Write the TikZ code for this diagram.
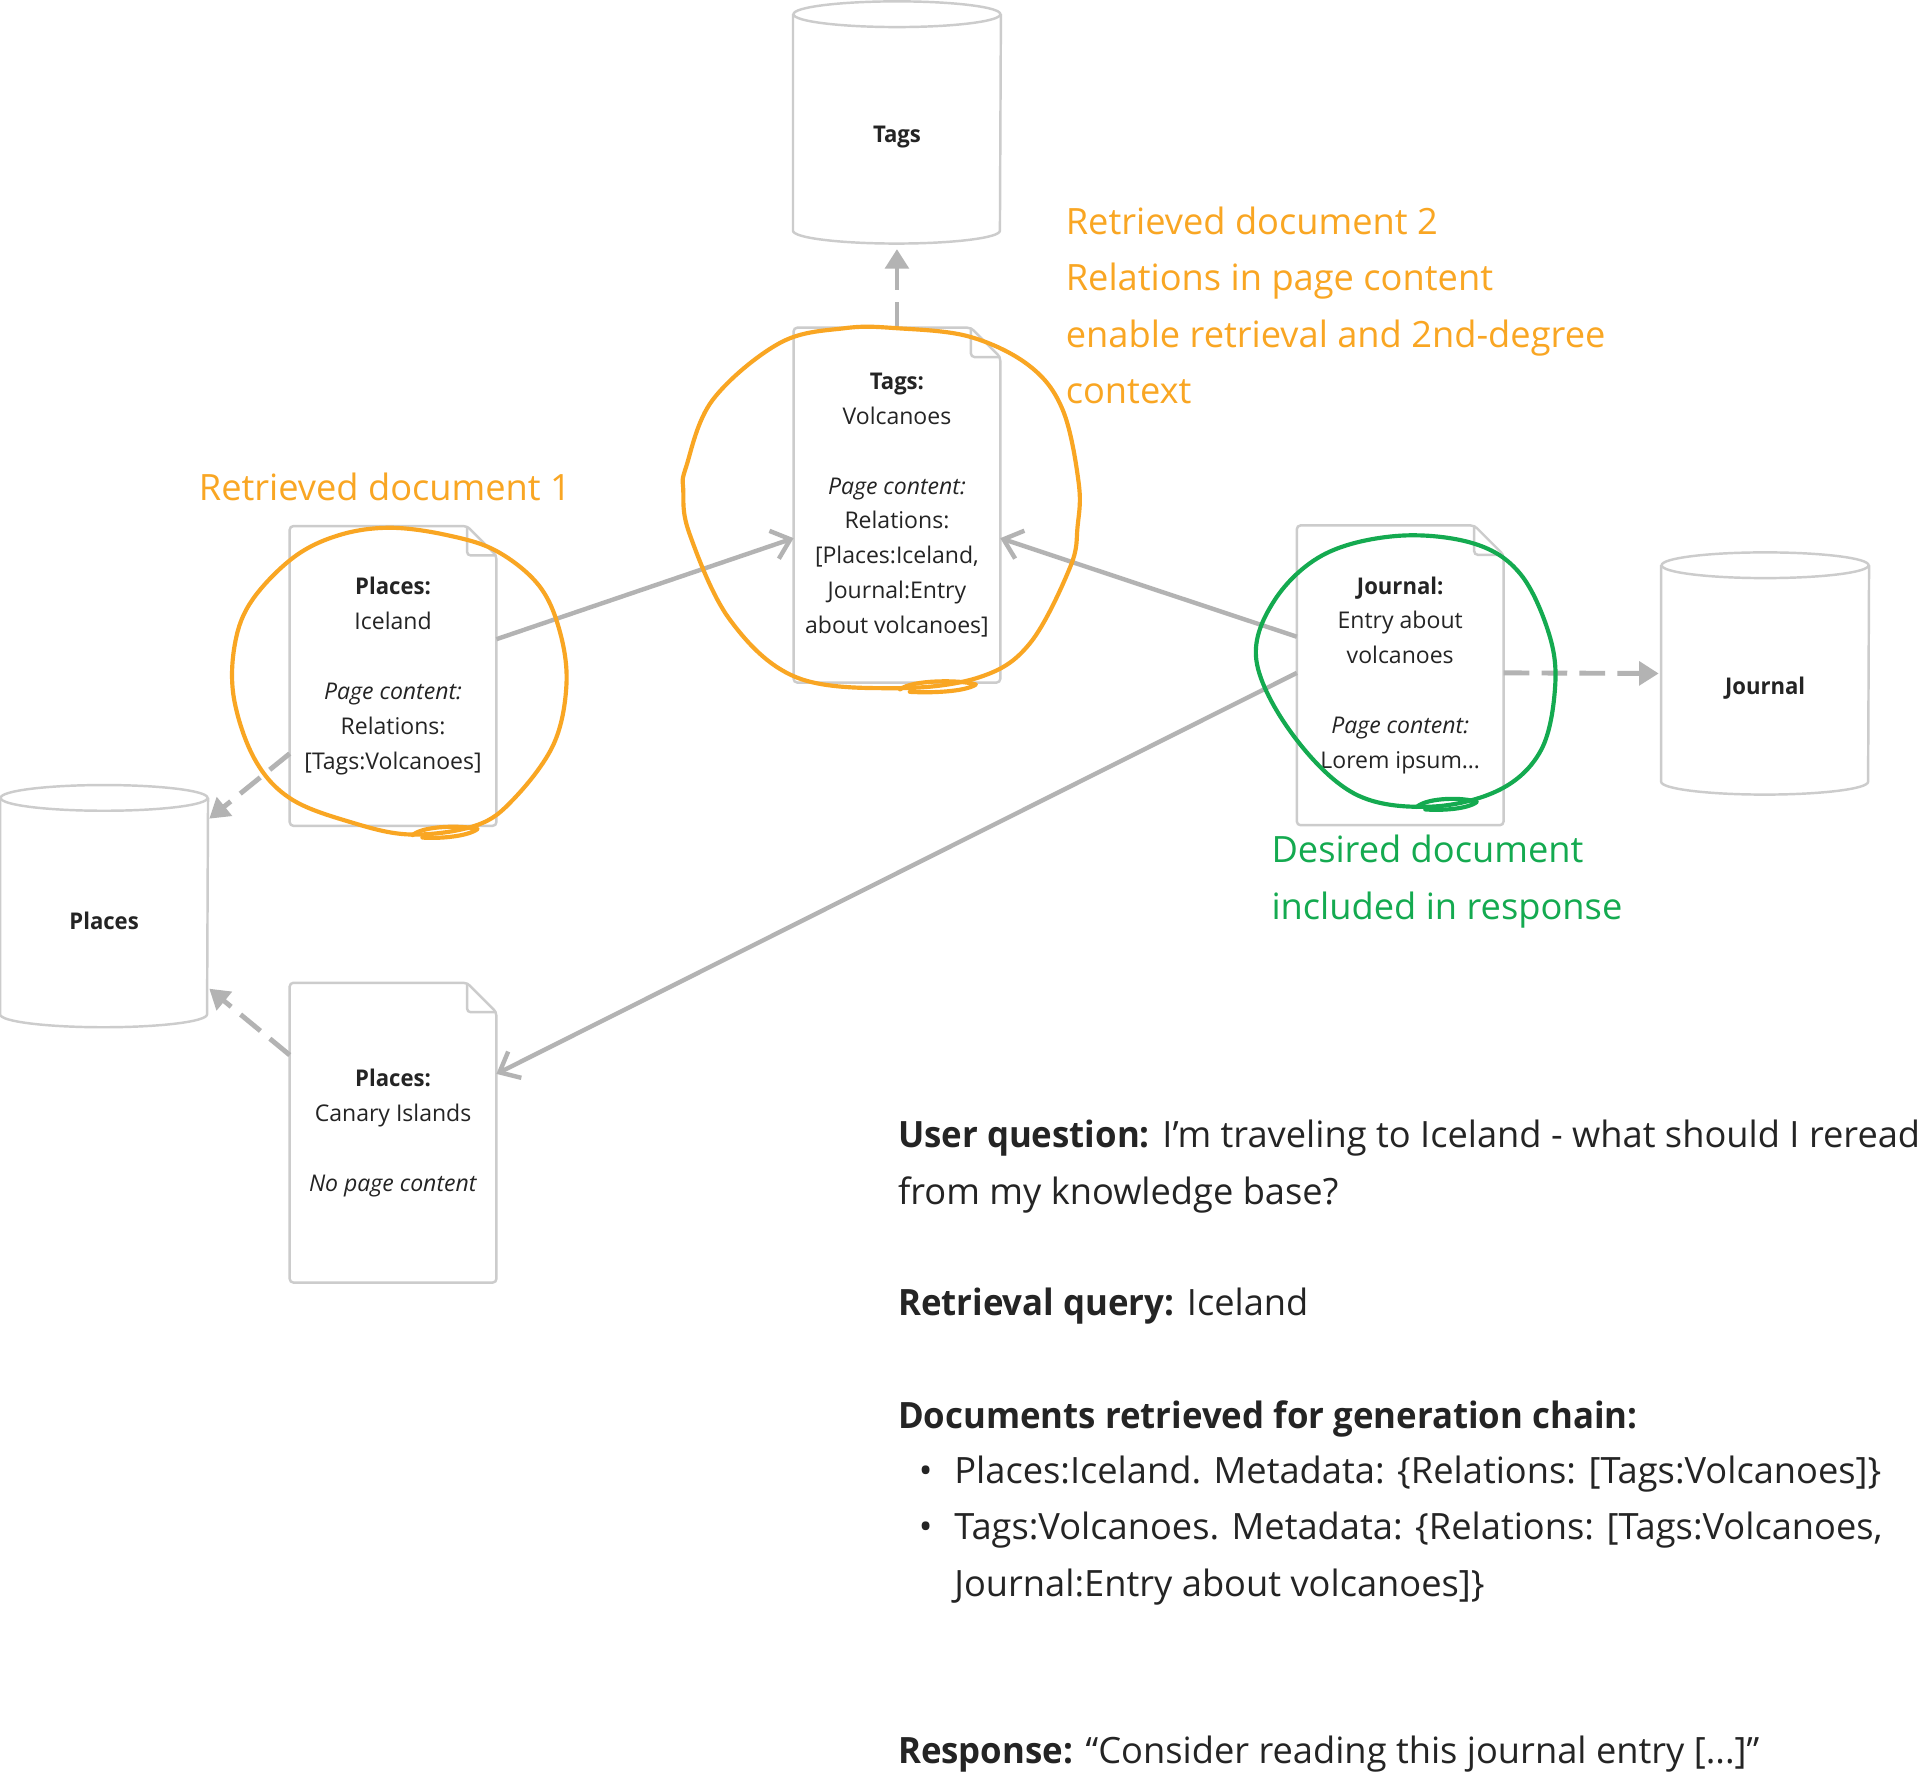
\documentclass[tikz,border=0pt]{standalone}
\usepackage{fontspec}
\setmainfont{Open Sans}[BoldFeatures={FakeStretch=0.96}]
\usetikzlibrary{arrows.meta}

\definecolor{docgray}{HTML}{CCCCCC}
\definecolor{arrowgray}{HTML}{B3B3B3}
\definecolor{inkdark}{HTML}{242424}
\definecolor{markorange}{HTML}{F9A623}
\definecolor{markgreen}{HTML}{14AA50}

\tikzset{
    docline/.style={draw=docgray, line width=1pt, rounded corners=1.5pt},
    docnode/.style={fill=white, minimum width=84pt, minimum height=122pt, inner sep=0pt,
        align=center, text=inkdark, font=\fontsize{9.4pt}{14.25pt}\selectfont},
    dbnode/.style={fill=white, minimum width=84.5pt, minimum height=88pt, inner sep=0pt},
    dbtext/.style={font=\fontsize{9.4pt}{11pt}\selectfont\bfseries, text=inkdark},
    link/.style={draw=arrowgray, line width=1.8pt, -{Straight Barb[length=7pt,width=12pt]}},
    dashlink/.style={draw=arrowgray, line width=2pt, dash pattern=on 10.5pt off 5pt,
        -{Triangle[length=8pt,width=9.5pt]}},
    note/.style={anchor=base west, inner sep=0pt, text=inkdark, font=\fontsize{14.8pt}{23pt}\selectfont},
    ringorange/.style={draw=markorange, line width=1.7pt, line cap=round, line join=round},
    ringgreen/.style={draw=markgreen, line width=1.7pt, line cap=round, line join=round}
}

\begin{document}
\begin{tikzpicture}[x=0.5pt, y=-0.5pt]
    \useasboundingbox[fill=white] (0,0) rectangle (1568,1448);

    % Databases
    \node[dbnode, label={[dbtext,yshift=-6pt]center:Tags}] (tagsdb) at (732.5,100) {};
    \node[dbnode, label={[dbtext,yshift=-6pt]center:Places}] (placesdb) at (85,740) {};
    \node[dbnode, label={[dbtext,yshift=-6pt]center:Journal}] (jdb) at (1441.5,550) {};
    \foreach \n in {tagsdb,placesdb,jdb} {
        \draw[docline, rounded corners=0pt] (\n.north west) -- (\n.south west)
            arc[start angle=180, end angle=360, x radius=42.25pt, y radius=5.25pt] -- (\n.north east);
        \draw[docline, rounded corners=0pt] (\n.north) ellipse[x radius=42.25pt, y radius=5.25pt];
    }

    % Documents
    \node[docnode] (icedoc) at (321,552)
        {\textbf{Places:}\\Iceland\\[14.25pt]\textit{Page content:}\\Relations:\\{[}Tags:Volcanoes]};
    \node[docnode, minimum height=144.5pt] (tagsdoc) at (732.5,412.5)
        {\textbf{Tags:}\\Volcanoes\\[14.25pt]\textit{Page content:}\\Relations:\\{[}Places:Iceland,\\Journal:Entry\\about volcanoes]};
    \node[docnode] (jdoc) at (1143.5,551.5)
        {\textbf{Journal:}\\Entry about\\volcanoes\\[14.25pt]\textit{Page content:}\\Lorem ipsum\ldots};
    \node[docnode] (canarydoc) at (321,925)
        {\textbf{Places:}\\Canary Islands\\[14.25pt]\textit{No page content}};
    \foreach \n in {icedoc,tagsdoc,jdoc,canarydoc} {
        \draw[docline] (\n.south west) -- (\n.north west) -- ([xshift=-12pt]\n.north east)
            -- ([yshift=-12pt]\n.north east) -- (\n.south east) -- cycle;
        \draw[docline] ([xshift=-12pt]\n.north east) |- ([yshift=-12pt]\n.north east);
    }

    % Relations and storage
    \draw[link] ([yshift=15pt]icedoc.east) -- ([yshift=-13.5pt]tagsdoc.west);
    \draw[link] ([yshift=15.75pt]jdoc.west) -- ([yshift=-13.5pt]tagsdoc.east);
    \draw[link] ([yshift=1pt]jdoc.west) -- ([yshift=24pt]canarydoc.east);
    \draw[dashlink, shorten >=7.5pt] (tagsdoc.north) -- (tagsdb.south);
    \draw[dashlink, shorten >=1pt] ([yshift=1pt]jdoc.east) -- (jdb.west);
    \draw[dashlink] ([yshift=29.5pt]icedoc.south west) -- ([shift={(0.5pt,-8.5pt)}]placesdb.north east);
    \draw[dashlink] ([yshift=-29.5pt]canarydoc.north west) -- ([shift={(0.5pt,10.5pt)}]placesdb.south east);

    % Hand drawn rings
    \draw[ringorange] plot[smooth cycle, tension=0.6] coordinates {(318.5,431) (365,437) (405.5,450) (440,478)
        (457,515) (462.6,559) (452,608) (420,652) (389,674) (335,681.5) (285,671) (237,652) (208,620)
        (191,570) (192,525) (206,490) (240,455) (277,437)};
    \draw[ringorange] (337,682) .. controls (346,674) and (378,674) .. (390,677) .. controls (382,683) and (360,685) .. (345,684);
    \draw[ringorange] plot[smooth cycle, tension=0.6] coordinates {(732,268) (792,275) (841,299) (868,335)
        (881,395) (880,430) (874,463) (841,525.5) (800,553) (732,562) (650,553) (596,506) (563,435.6)
        (558,400) (560.4,381) (582,326.6) (637,280) (690,268)};
    \draw[ringorange] (735,563) .. controls (745,555) and (785,555) .. (797,559) .. controls (788,565) and (760,566) .. (743,565);
    \draw[ringgreen] plot[smooth cycle, tension=0.6] coordinates {(1143,437.5) (1204,444) (1241.6,468.7)
        (1265,517.6) (1270,561) (1258.5,612.6) (1224.6,645) (1167,658.8) (1105.8,648) (1055,599)
        (1026,539) (1041,490) (1082,452.4)};
    \draw[ringgreen] (1157,659) .. controls (1166,651) and (1196,651) .. (1206,655) .. controls (1198,661) and (1176,662) .. (1164,661);

    % Ring labels
    \node[note, text=markorange] (doc1note) at (162,408.5) {Retrieved document 1};
    \foreach \txt [count=\i] in {Retrieved document 2, Relations in page content, enable retrieval and 2nd-degree, context} {
        \node[note, text=markorange] (doc2note\i) at (870,{145.5+46*\i}) {\txt};
    }
    \foreach \txt [count=\i] in {Desired document, included in response} {
        \node[note, text=markgreen] (desirednote\i) at (1038,{658.5+46*\i}) {\txt};
    }

    % Question and answer
    \node[note] (question) at (733,937.5) {\textbf{User question:} I’m traveling to Iceland - what should I reread};
    \node[note] (question2) at (733,983.5) {from my knowledge base?};
    \node[note] (query) at (733,1074.5) {\textbf{Retrieval query:} Iceland};
    \node[note] (retrieved) at (733,1166.5) {\textbf{Documents retrieved for generation chain:}};
    \foreach \yy [count=\i] in {1211.5,1257.5} {
        \node[note, anchor=base] (bullet\i) at (756,\yy) {•};
    }
    \node[note] (item1) at (779,1211.5) {Places:Iceland. Metadata: \{Relations: [Tags:Volcanoes]\}};
    \node[note] (item2) at (779,1257.5) {Tags:Volcanoes. Metadata: \{Relations: [Tags:Volcanoes,};
    \node[note] (item2b) at (779,1303.5) {Journal:Entry about volcanoes]\}};
    \node[note] (response) at (733,1440.5) {\textbf{Response:} “Consider reading this journal entry [...]”};

\end{tikzpicture}
\end{document}
